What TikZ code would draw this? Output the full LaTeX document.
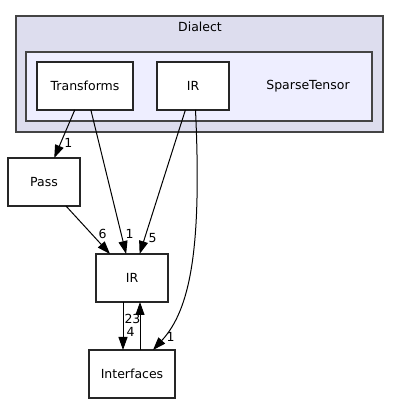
\documentclass[tikz,border=0pt]{standalone}
\usepackage{fontspec}
\setmainfont{DejaVu Sans}
\usepackage{tkz-graph}
\usetikzlibrary{arrows.meta}
\definecolor{dialectfill}{HTML}{DDDDEE}
\definecolor{sparsefill}{HTML}{EEEEFF}
\definecolor{clusterline}{HTML}{444444}

\begin{document}
\begin{tikzpicture}[x=1pt, y=1pt,
    cluster/.style={draw=clusterline, line width=1.3pt},
    every node/.style={font=\fontsize{12.5}{15}\selectfont}]
    \useasboundingbox (0,0) rectangle (400,404);

    \filldraw[cluster, fill=dialectfill] (16,388) rectangle (383,272);
    \node (dialect) at (200,377) {Dialect};
    \filldraw[cluster, fill=sparsefill] (26,352) rectangle (372,283);
    \node (sparse) at (308,318) {SparseTensor};

    \tikzset{VertexStyle/.style={draw=black!85, rectangle, fill=white, line width=1.1pt,
        minimum width=72pt, minimum height=48pt, inner sep=0pt}}
    \Vertex[x=193, y=318, L=IR]   {IRst}
    \Vertex[x=44,  y=222, L=Pass] {Pass}
    \Vertex[x=132, y=126, L=IR]   {IR}

    \tikzset{VertexStyle/.append style={minimum width=86pt}}
    \Vertex[x=132, y=30, L=Interfaces] {Interfaces}
    \tikzset{VertexStyle/.append style={minimum width=96pt}}
    \Vertex[x=85, y=318, L=Transforms] {Transforms}

    \tikzset{EdgeStyle/.style={->, >={Triangle[length=13pt, width=9pt]}, line width=1pt},
             LabelStyle/.style={inner sep=0pt}}
    \Edge[label=1, labelstyle={pos=0.69, right=3.4pt}](Transforms)(Pass)
    \Edge[label=1, labelstyle={pos=0.86, right=3.9pt}](Transforms)(IR)
    \Edge[label=5, labelstyle={pos=0.89, right=3.5pt}](IRst)(IR)
    \Edge[label=6, labelstyle={pos=0.58, right=6.7pt}](Pass)(IR)

    \Edge[label=23, labelstyle={pos=0.36, right=1pt}]([xshift=-9pt]IR.south)([xshift=-9pt]Interfaces.north)
    \Edge[label=4, labelstyle={pos=0.38, left=5pt}]([xshift=8pt]Interfaces.north)([xshift=8pt]IR.south)

    \draw[EdgeStyle] ([xshift=2.5pt]IRst.south) .. controls (202,154) and (190,94) .. ([xshift=21pt]Interfaces.north)
        node[LabelStyle, pos=0.9, right=2.7pt] {1};

\end{tikzpicture}
\end{document}
